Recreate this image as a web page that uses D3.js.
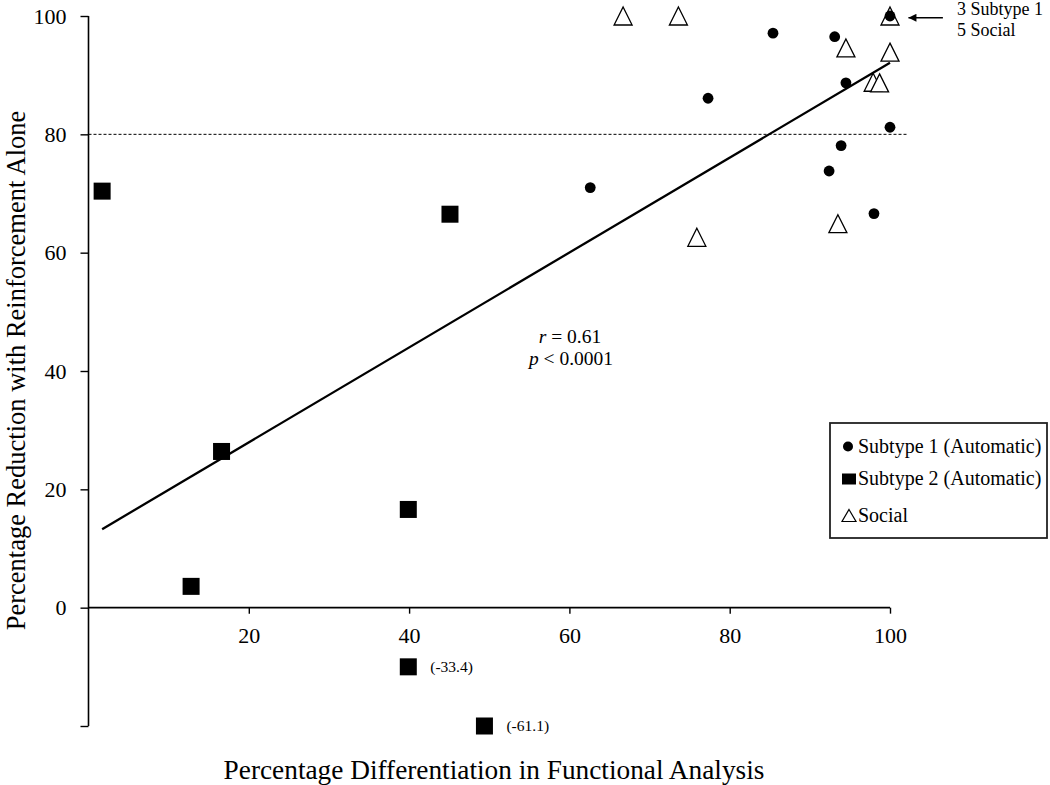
<!DOCTYPE html>
<html>
<head>
<meta charset="utf-8">
<script src="https://cdn.jsdelivr.net/npm/d3@7"></script>
<style>
  html, body { margin: 0; padding: 0; background: #fff; }
  svg { display: block; font-family: "Liberation Serif", "Times New Roman", serif; }
  svg text { font-family: "Liberation Serif", "Times New Roman", serif; }
</style>
</head>
<body>
<svg id="chart" width="1050" height="785"></svg>
<script>
// ---- data ----
const xTicks = [20, 40, 60, 80, 100];
const yTicks = [-20, 0, 20, 40, 60, 80, 100];

const subtype1X = [62.6, 85.4, 93.1, 77.3, 94.5, 100, 93.9, 92.4, 98.0, 100];
const subtype1Y = [71.0, 97.1, 96.5, 86.1, 88.7, 81.2, 78.1, 73.8, 66.6, 100];

const subtype2X = [1.7, 45.1, 16.6, 12.8, 39.9, 39.9, 49.4];
const subtype2Y = [70.4, 66.5, 26.4, 3.6, 16.6, -10, -20];
const subtype2Labels = ["", "", "", "", "", "(-33.4)", "(-61.1)"];

const socialX = [66.7, 73.6, 94.5, 100, 97.9, 98.7, 93.5, 75.9, 100];
const socialY = [100, 100, 94.6, 93.9, 88.8, 88.7, 64.9, 62.6, 100];

const fitCoef = [11.9, 0.802];   // intercept, slope
const criterion = [80];
const statsText = ["r", " = 0.61", "p", " < 0.0001"];
const noteLines = ["3 Subtype 1", "5 Social"];
const legendLabels = ["Subtype 1 (Automatic)", "Subtype 2 (Automatic)", "Social"];

// ---- chart ----
const svg = d3.select("#chart");
const x = d3.scaleLinear().domain([0, 100]).range([88.5, 890]);
const y = d3.scaleLinear().domain([-20, 100]).range([726, 16]);

// criterion dashed line
svg.append("g").selectAll("line").data(criterion).join("line")
  .attr("x1", x(0)).attr("x2", x(102.3))
  .attr("y1", d => y(d)).attr("y2", d => y(d))
  .attr("stroke", "#000").attr("stroke-width", 1).attr("stroke-dasharray", "3,2");

// axes
const yAxis = svg.append("g")
  .attr("transform", `translate(${x(0)},0)`)
  .call(d3.axisLeft(y).tickValues(yTicks).tickSize(8).tickSizeOuter(0).tickPadding(14)
    .tickFormat(d => d < 0 ? "" : d));
const xAxis = svg.append("g")
  .attr("transform", `translate(0,${y(0)})`)
  .call(d3.axisBottom(x).tickValues(xTicks).tickSize(6).tickSizeOuter(0).tickPadding(14));
[xAxis, yAxis].forEach(g => {
  g.attr("font-family", "Liberation Serif, serif").attr("font-size", 22);
  g.select(".domain").attr("stroke", "#000").attr("stroke-width", 1.6);
  g.selectAll(".tick line").attr("stroke", "#000").attr("stroke-width", 1.4);
  g.selectAll(".tick text").attr("fill", "#000");
});
yAxis.select(".domain").attr("d", `M0,${y(-20)}V${y(100)}`);
xAxis.select(".domain").attr("d", `M${x(0)},0H${x(100)}`);

// regression line
const allX = subtype1X.concat(subtype2X, socialX);
const [xMin, xMax] = d3.extent(allX);
const line = d3.line().x(d => x(d)).y(d => y(fitCoef[0] + fitCoef[1] * d));
svg.append("path").datum([xMin, xMax]).attr("d", line)
  .attr("fill", "none").attr("stroke", "#000").attr("stroke-width", 2.3);

// social triangles (hollow)
const tri = (w, h) => `M0,${-h / 2}L${w / 2},${h / 2}L${-w / 2},${h / 2}Z`;
svg.append("g").selectAll("path").data(socialX.map((d, i) => [d, socialY[i]])).join("path")
  .attr("d", tri(18, 18))
  .attr("transform", d => `translate(${x(d[0])},${y(d[1])})`)
  .attr("fill", "#fff").attr("stroke", "#000").attr("stroke-width", 1.3);

// subtype 1 circles
svg.append("g").selectAll("circle").data(subtype1X.map((d, i) => [d, subtype1Y[i]])).join("circle")
  .attr("cx", d => x(d[0])).attr("cy", d => y(d[1])).attr("r", 5.4).attr("fill", "#000");

// subtype 2 squares
const sq = 17;
const s2 = subtype2X.map((d, i) => ({ x: d, y: subtype2Y[i], label: subtype2Labels[i] }));
svg.append("g").selectAll("rect").data(s2).join("rect")
  .attr("x", d => x(d.x) - sq / 2).attr("y", d => y(d.y) - sq / 2)
  .attr("width", sq).attr("height", sq).attr("fill", "#000");
svg.append("g").selectAll("text").data(s2.filter(d => d.label)).join("text")
  .attr("x", d => x(d.x) + 22).attr("y", d => y(d.y) + 5)
  .attr("font-size", 15.5).attr("fill", "#000").text(d => d.label);

// stats annotation
const st = svg.append("text").attr("x", 570).attr("y", 343).attr("text-anchor", "middle")
  .attr("font-size", 19.5);
st.append("tspan").attr("font-style", "italic").text(statsText[0]);
st.append("tspan").text(statsText[1]);
const st2 = svg.append("text").attr("x", 571).attr("y", 365).attr("text-anchor", "middle")
  .attr("font-size", 19.5);
st2.append("tspan").attr("font-style", "italic").text(statsText[2]);
st2.append("tspan").text(statsText[3]);

// arrow note
svg.append("defs").append("marker").attr("id", "ah")
  .attr("viewBox", "0 0 10 10").attr("refX", 10).attr("refY", 5)
  .attr("markerWidth", 11).attr("markerHeight", 8).attr("markerUnits", "userSpaceOnUse")
  .attr("orient", "auto")
  .append("path").attr("d", "M0,0L10,5L0,10Z").attr("fill", "#000");
svg.append("line").attr("x1", x(106.6)).attr("x2", x(102.3))
  .attr("y1", y(99.7)).attr("y2", y(99.7))
  .attr("stroke", "#000").attr("stroke-width", 1.4).attr("marker-end", "url(#ah)");
svg.append("g").selectAll("text").data(noteLines).join("text")
  .attr("x", 957).attr("y", (d, i) => 15 + i * 21).attr("font-size", 18).text(d => d);

// legend
const lg = svg.append("g");
lg.append("rect").attr("x", 830).attr("y", 423).attr("width", 217).attr("height", 115)
  .attr("fill", "#fff").attr("stroke", "#222").attr("stroke-width", 1.8);
const ly = [453, 485, 522];
lg.append("circle").attr("cx", 848).attr("cy", ly[0] - 6.5).attr("r", 5).attr("fill", "#000");
lg.append("rect").attr("x", 842).attr("y", ly[1] - 11.5).attr("width", 14).attr("height", 11).attr("fill", "#000");
lg.append("path").attr("d", tri(14, 12)).attr("transform", `translate(849,${ly[2] - 6.5})`)
  .attr("fill", "#fff").attr("stroke", "#000").attr("stroke-width", 1.2);
lg.selectAll("text").data(legendLabels).join("text")
  .attr("x", 858).attr("y", (d, i) => ly[i]).attr("font-size", 20).text(d => d);

// axis titles
svg.append("text").attr("x", 494).attr("y", 779).attr("text-anchor", "middle")
  .attr("font-size", 27.3).text("Percentage  Differentiation  in  Functional Analysis");
svg.append("text").attr("transform", "translate(25,370.5) rotate(-90)")
  .attr("text-anchor", "middle").attr("font-size", 26.5)
  .text("Percentage Reduction with Reinforcement Alone");
</script>
</body>
</html>
